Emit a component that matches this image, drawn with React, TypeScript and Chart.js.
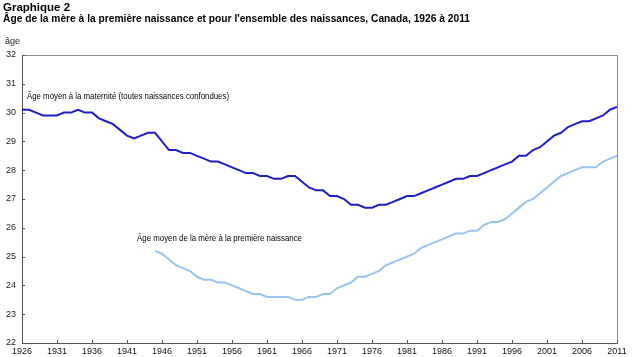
import React, { useEffect, useRef } from 'react';
import { Chart, registerables } from 'chart.js';

Chart.register(...registerables);

const years = [
  1926, 1927, 1928, 1929, 1930, 1931, 1932, 1933, 1934, 1935,
  1936, 1937, 1938, 1939, 1940, 1941, 1942, 1943, 1944, 1945,
  1946, 1947, 1948, 1949, 1950, 1951, 1952, 1953, 1954, 1955,
  1956, 1957, 1958, 1959, 1960, 1961, 1962, 1963, 1964, 1965,
  1966, 1967, 1968, 1969, 1970, 1971, 1972, 1973, 1974, 1975,
  1976, 1977, 1978, 1979, 1980, 1981, 1982, 1983, 1984, 1985,
  1986, 1987, 1988, 1989, 1990, 1991, 1992, 1993, 1994, 1995,
  1996, 1997, 1998, 1999, 2000, 2001, 2002, 2003, 2004, 2005,
  2006, 2007, 2008, 2009, 2010, 2011,
];

// Âge moyen à la maternité (toutes naissances confondues), 1926–2011
const allBirths = [
  30.1, 30.1, 30.0, 29.9, 29.9, 29.9, 30.0, 30.0, 30.1, 30.0,
  30.0, 29.8, 29.7, 29.6, 29.4, 29.2, 29.1, 29.2, 29.3, 29.3,
  29.0, 28.7, 28.7, 28.6, 28.6, 28.5, 28.4, 28.3, 28.3, 28.2,
  28.1, 28.0, 27.9, 27.9, 27.8, 27.8, 27.7, 27.7, 27.8, 27.8,
  27.6, 27.4, 27.3, 27.3, 27.1, 27.1, 27.0, 26.8, 26.8, 26.7,
  26.7, 26.8, 26.8, 26.9, 27.0, 27.1, 27.1, 27.2, 27.3, 27.4,
  27.5, 27.6, 27.7, 27.7, 27.8, 27.8, 27.9, 28.0, 28.1, 28.2,
  28.3, 28.5, 28.5, 28.7, 28.8, 29.0, 29.2, 29.3, 29.5, 29.6,
  29.7, 29.7, 29.8, 29.9, 30.1, 30.2,
];

// Âge moyen de la mère à la première naissance, 1926–2011 (no data before 1945)
const firstBirth = [
  null, null, null, null, null, null, null, null, null, null,
  null, null, null, null, null, null, null, null, null, 25.2,
  25.1, 24.9, 24.7, 24.6, 24.5, 24.3, 24.2, 24.2, 24.1, 24.1,
  24.0, 23.9, 23.8, 23.7, 23.7, 23.6, 23.6, 23.6, 23.6, 23.5,
  23.5, 23.6, 23.6, 23.7, 23.7, 23.9, 24.0, 24.1, 24.3, 24.3,
  24.4, 24.5, 24.7, 24.8, 24.9, 25.0, 25.1, 25.3, 25.4, 25.5,
  25.6, 25.7, 25.8, 25.8, 25.9, 25.9, 26.1, 26.2, 26.2, 26.3,
  26.5, 26.7, 26.9, 27.0, 27.2, 27.4, 27.6, 27.8, 27.9, 28.0,
  28.1, 28.1, 28.1, 28.3, 28.4, 28.5,
];

const xTickYears = [
  1926, 1931, 1936, 1941, 1946, 1951, 1956, 1961, 1966, 1971,
  1976, 1981, 1986, 1991, 1996, 2001, 2006, 2011,
];
const yTickValues = [22, 23, 24, 25, 26, 27, 28, 29, 30, 31, 32];

const titleLine1 = 'Graphique 2';
const titleLine2 =
  "Âge de la mère à la première naissance et pour l'ensemble des naissances, Canada, 1926 à 2011";
const yAxisLabel = 'âge';
const labelAll = 'Âge moyen à la maternité (toutes naissances confondues)';
const labelFirst = 'Âge moyen de la mère à la première naissance';

const FONT = "'Liberation Sans', Arial, sans-serif";

const decorPlugin = {
  id: 'decor',
  afterDraw(chart: any) {
    const ctx = chart.ctx as CanvasRenderingContext2D;
    const { left, right, top, bottom } = chart.chartArea;
    const xs = chart.scales.x;
    const ys = chart.scales.y;
    ctx.save();
    // top & right frame
    ctx.strokeStyle = '#8c8c8c';
    ctx.lineWidth = 1;
    ctx.beginPath();
    ctx.moveTo(Math.round(left) + 0.5, Math.round(top) + 0.5);
    ctx.lineTo(Math.round(right) + 0.5, Math.round(top) + 0.5);
    ctx.lineTo(Math.round(right) + 0.5, Math.round(bottom) + 0.5);
    ctx.stroke();
    // tick marks
    ctx.strokeStyle = '#555';
    ctx.beginPath();
    for (const v of yTickValues) {
      const y = Math.round(ys.getPixelForValue(v)) + 0.5;
      ctx.moveTo(left, y);
      ctx.lineTo(left + 3, y);
    }
    for (const v of xTickYears) {
      const x = Math.round(xs.getPixelForValue(v)) + 0.5;
      ctx.moveTo(x, bottom);
      ctx.lineTo(x, bottom - 3);
    }
    ctx.stroke();
    // titles
    ctx.fillStyle = '#000';
    ctx.textBaseline = 'middle';
    ctx.textAlign = 'left';
    ctx.font = `bold 11.5px ${FONT}`;
    ctx.fillText(titleLine1, 3, 8);
    ctx.fillText(titleLine2, 3, 19, 467);
    ctx.font = `9px ${FONT}`;
    ctx.fillStyle = '#222';
    ctx.fillText(yAxisLabel, 5, 42);
    // series labels
    ctx.font = `9px ${FONT}`;
    ctx.fillStyle = '#000';
    ctx.fillText(labelAll, 27, 97, 202);
    ctx.fillText(labelFirst, 137, 239, 165);
    ctx.restore();
  },
};

export default function App() {
  const ref = useRef<HTMLCanvasElement | null>(null);

  useEffect(() => {
    if (!ref.current) return;
    const chart = new Chart(ref.current, {
      type: 'line',
      data: {
        datasets: [
          {
            label: labelAll,
            data: years.map((y, i) => ({ x: y, y: allBirths[i] })),
            borderColor: 'rgb(30, 30, 200)',
            borderWidth: 2,
            pointRadius: 0,
            tension: 0,
          },
          {
            label: labelFirst,
            data: years.map((y, i) => ({ x: y, y: firstBirth[i] })),
            borderColor: 'rgb(150, 195, 240)',
            borderWidth: 2,
            pointRadius: 0,
            tension: 0,
            spanGaps: false,
          },
        ],
      },
      options: {
        responsive: false,
        animation: false,
        events: [],
        layout: { padding: { top: 55, right: 18, left: 0, bottom: 0 } },
        plugins: {
          legend: { display: false },
          title: { display: false },
          tooltip: { enabled: false },
        },
        scales: {
          x: {
            type: 'linear',
            min: 1926,
            max: 2011,
            afterBuildTicks: (s: any) => {
              s.ticks = xTickYears.map((v) => ({ value: v }));
            },
            afterFit: (s: any) => {
              s.height = 14;
            },
            ticks: {
              autoSkip: false,
              maxRotation: 0,
              padding: 3,
              color: '#111',
              font: { family: FONT, size: 9 },
              callback: (v: any) => String(v),
            },
            grid: { display: false, drawTicks: false },
            border: { display: true, color: '#555', width: 1 },
          },
          y: {
            min: 22,
            max: 32,
            afterBuildTicks: (s: any) => {
              s.ticks = yTickValues.map((v) => ({ value: v }));
            },
            afterFit: (s: any) => {
              s.width = 22;
            },
            ticks: {
              padding: 6,
              color: '#222',
              font: { family: FONT, size: 9 },
              callback: (v: any) => String(v),
            },
            grid: { display: false, drawTicks: false },
            border: { display: true, color: '#555', width: 1 },
          },
        },
      },
      plugins: [decorPlugin],
    });
    return () => chart.destroy();
  }, []);

  return (
    <canvas
      ref={ref}
      width={635}
      height={357}
      style={{ position: 'fixed', left: 0, top: 0, width: 635, height: 357 }}
    />
  );
}
